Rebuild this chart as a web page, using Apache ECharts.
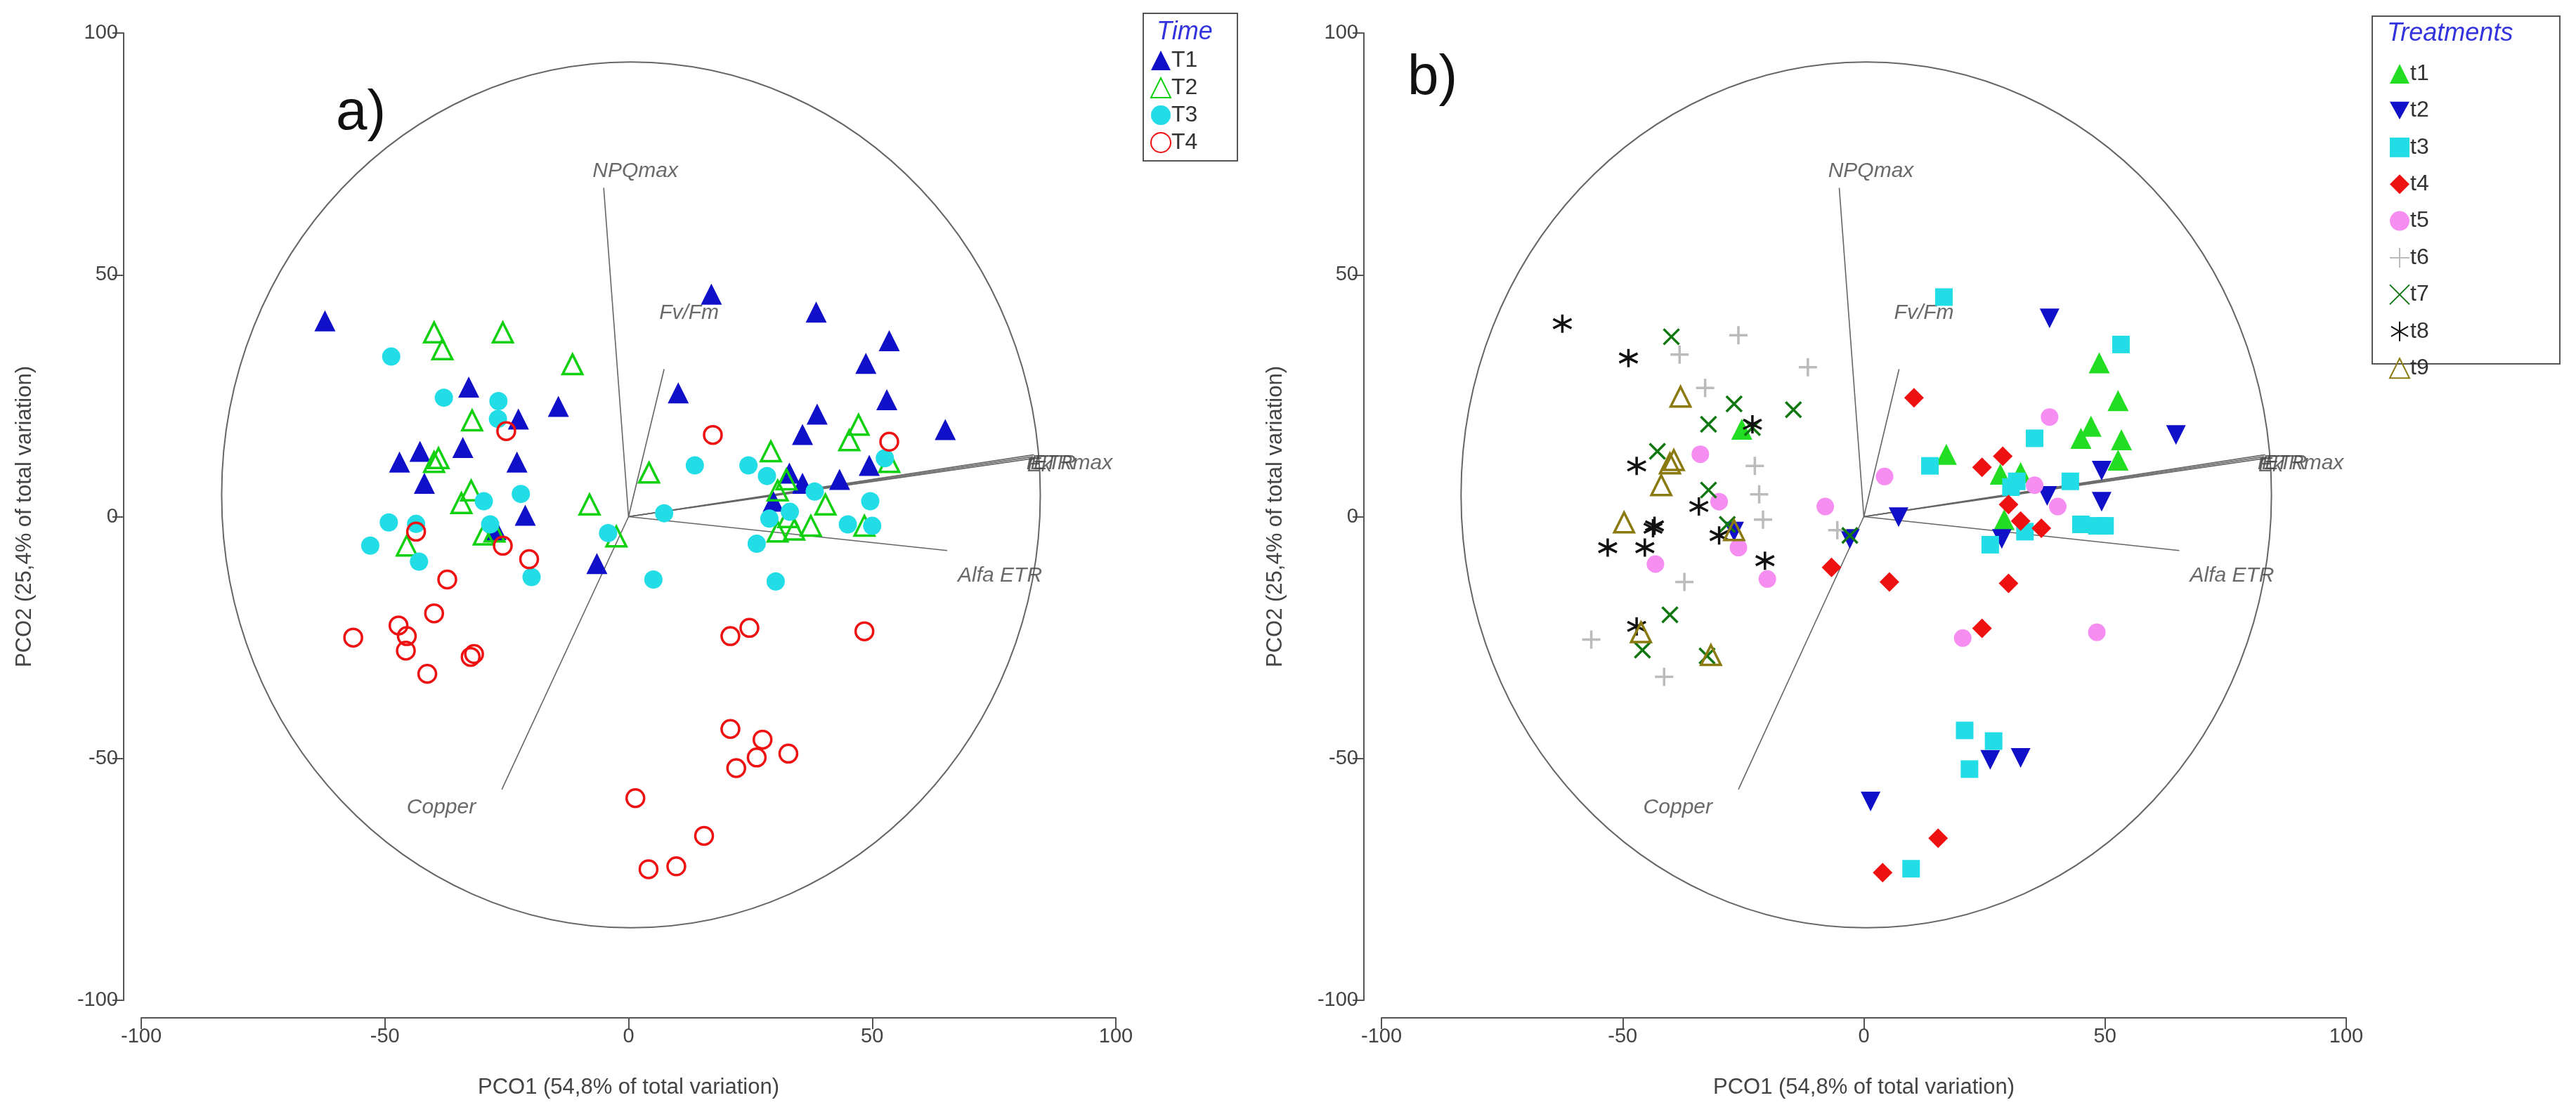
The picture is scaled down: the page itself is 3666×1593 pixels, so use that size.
<!DOCTYPE html>
<html><head><meta charset="utf-8">
<script src="https://cdn.jsdelivr.net/npm/echarts@6/dist/echarts.min.js"></script>
<style>html,body{margin:0;padding:0;background:#fff}#c{width:3666px;height:1593px}</style>
</head><body><div id="c"></div>
<script>
// ---- data: panel a (Time) ----
const T1 = [[-62.3,40.5],[17,46],[38.5,42.3],[48.7,31.7],[53.5,36.4],[53,24.2],[65,18],[10.2,25.6],[38.7,21.2],[35.7,17],[43.3,7.7],[33,9],[35.7,6.9],[49.4,10.6],[29.7,3.2],[-32.8,26.8],[-14.4,22.8],[-22.6,20.2],[-34,14.3],[-47,11.3],[-42.8,13.5],[-41.9,6.9],[-22.9,11.3],[-21.2,0.3],[-27.2,-2.7],[-6.5,-9.7]];
const T2 = [[-39.9,38.1],[-38.2,34.6],[-25.8,38.1],[-11.5,31.5],[-32.1,19.9],[-39.9,11.3],[-39,12.1],[-32.3,5.4],[-34.3,2.8],[-29.7,-3.7],[-45.5,-6],[-8,2.5],[4.2,9.1],[-2.5,-4.1],[29.2,13.5],[30.6,5.4],[32.4,7.7],[47.2,19],[45.3,15.8],[53.5,11.3],[40.4,2.5],[37.4,-1.9],[34,-2.7],[30.6,-3.1],[32.8,-0.1],[48.4,-1.9],[-27.5,-3.1]];
const T3 = [[-48.7,33.1],[-37.9,24.6],[-26.7,23.9],[-26.8,20.2],[-29.7,3.2],[-22.1,4.7],[-49.2,-1.2],[-43.6,-1.5],[-53,-6],[-43,-9.3],[-28.4,-1.6],[-19.9,-12.5],[-4.2,-3.4],[7.3,0.7],[5.1,-13],[13.6,10.6],[24.6,10.6],[28.4,8.4],[38.2,5.2],[45,-1.6],[50,-1.9],[49.6,3.2],[52.6,12.1],[28.9,-0.4],[26.3,-5.6],[30.2,-13.4],[33.1,1]];
const T4 = [[-25.1,17.7],[17.3,16.9],[53.5,15.5],[-43.6,-3.1],[-25.8,-6],[-20.4,-8.8],[-37.2,-13],[-39.9,-20],[-47.2,-22.5],[-45.5,-24.7],[-56.5,-25],[-45.7,-27.7],[-41.3,-32.5],[-31.7,-28.4],[-32.4,-29],[20.9,-24.7],[24.8,-23],[48.4,-23.7],[20.9,-43.9],[27.5,-46.1],[32.8,-49],[26.3,-49.8],[22.1,-52],[1.4,-58.2],[15.5,-66],[9.8,-72.3],[4.1,-72.9]];
// ---- data: panel b (Treatments) ----
const t1 = [[-25.3,18.1],[17.1,12.9],[28.3,8.8],[32.5,9.1],[29.1,-0.6],[48.8,31.8],[47.1,18.7],[45,16.2],[52.7,24],[53.4,15.9],[52.7,11.7]];
const t2 = [[38.5,41],[64.7,16.9],[49.3,9.5],[49.3,3.1],[38,4.3],[7.2,-0.1],[-2.9,-4.6],[-26.9,-3.1],[28.6,-4.6],[26.2,-50.3],[32.5,-49.9],[1.4,-58.9]];
const t3 = [[16.6,45.4],[53.3,35.6],[35.4,16.2],[13.7,10.5],[31.7,7.3],[30.5,6.1],[42.8,7.3],[45,-1.6],[48.3,-1.9],[50,-1.9],[33.4,-3.1],[26.2,-5.8],[20.9,-44.2],[26.9,-46.4],[21.9,-52.2],[9.8,-72.8]];
const t4 = [[10.4,24.6],[28.8,12.5],[24.5,10.2],[30,2.5],[32.5,-0.9],[36.8,-2.4],[-6.7,-10.5],[5.3,-13.5],[30,-13.8],[24.5,-23.1],[15.4,-66.5],[3.9,-73.6]];
const t5 = [[38.5,20.6],[4.3,8.3],[-8,2.1],[35.4,6.5],[40.2,2.1],[-33.9,12.9],[-30,3.1],[-26,-6.4],[-20,-12.9],[-43.2,-9.8],[20.5,-25.1],[48.3,-23.9]];
const t6 = [[-26,37.5],[-11.6,30.9],[-38.2,33.5],[-32.9,26.6],[-22.6,10.5],[-21.7,4.6],[-20.9,-0.6],[-5.5,-2.8],[-37.2,-13.5],[-56.5,-25.4],[-41.4,-33.1]];
const t7 = [[-39.9,37.2],[-26.9,23.3],[-32.2,19.1],[-14.6,22.1],[-42.8,13.5],[-32.2,5.5],[-28.3,-1.6],[-23.1,18.4],[-40.2,-20.3],[-45.9,-27.6],[-32.5,-28.8],[-2.9,-3.9]];
const t8 = [[-62.5,39.9],[-48.8,32.8],[-23.1,19.1],[-47.1,10.5],[-34.2,2.1],[-43.7,-2.4],[-43.4,-1.9],[-53.1,-6.4],[-45.4,-6.4],[-30,-3.9],[-20.5,-9.1],[-47.1,-22.7]];
const t9 = [[-38,24.8],[-40.2,11],[-39.4,11.7],[-42,6.5],[-49.7,-1.2],[-46.2,-23.9],[-31.7,-28.6],[-26.9,-2.8]];
// ---- vectors ----
const vectorNames = ["NPQmax","Fv/Fm","ETRmax","rETR","Ek","Alfa ETR","Copper"];
const vectorEnds = [[-5.1,68],[7.3,30.5],[83.2,12.8],[83,12.4],[82.8,12.0],[65.4,-7],[-26,-56.4]];
const circleCenter = [0.5,4.5], circleRadii = [84,89.5];

const chart = echarts.init(document.getElementById('c'));
const grids = [{left:201,width:1387,top:47,height:1377},{left:1966,width:1373,top:47,height:1377}];
const FONT = 'Liberation Sans, Arial, sans-serif';
function xAx(i){return {gridIndex:i,type:'value',min:-100,max:100,interval:50,offset:25,
  name:'PCO1 (54,8% of total variation)',nameLocation:'middle',nameGap:84,
  nameTextStyle:{fontSize:31,color:'#444',fontFamily:FONT},
  axisLine:{onZero:false,lineStyle:{color:'#555',width:2}},axisTick:{length:16,lineStyle:{color:'#555',width:2}},
  axisLabel:{fontSize:29,color:'#444',fontFamily:FONT,margin:12},splitLine:{show:false}};}
function yAx(i){return {gridIndex:i,type:'value',min:-100,max:100,interval:50,offset:25,
  name:'PCO2 (25,4% of total variation)',nameLocation:'middle',nameGap:i===0?125:110,
  nameTextStyle:{fontSize:31,color:'#444',fontFamily:FONT},
  axisLine:{onZero:false,lineStyle:{color:'#555',width:2}},axisTick:{length:16,lineStyle:{color:'#555',width:2}},
  axisLabel:{fontSize:29,color:'#444',fontFamily:FONT,margin:8},splitLine:{show:false}};}

const DOWN = 'path://M0 0L10 0L5 9Z';
const PLUS = 'path://M5 0L5 10M0 5L10 5';
const CROSS = 'path://M0 0L10 10M10 0L0 10';
const STAR = 'path://M5 0L5 10M0.7 2.5L9.3 7.5M9.3 2.5L0.7 7.5';

function sc(name,data,gi,symbol,size,fill,stroke,bw){
  return {name,type:'scatter',xAxisIndex:gi,yAxisIndex:gi,data,symbol,symbolSize:size,z:5,
    itemStyle:{color:fill,borderColor:stroke,borderWidth:bw,opacity:1}};
}
const series = [];
const pos = {"NPQmax":['top',[45,-4]],"Fv/Fm":['right',[-12,-80]],"ETRmax":['right',[-10,12]],
  "rETR":['right',[-14,10]],"Ek":['right',[-12,10]],"Alfa ETR":['right',[10,36]],"Copper":['left',[-32,26]]};
for (let g=0; g<2; g++){
  vectorEnds.forEach((e)=>{
    series.push({type:'line',xAxisIndex:g,yAxisIndex:g,data:[[0,0],e],symbol:'none',silent:true,z:2,
      lineStyle:{color:'#666',width:1.6}});
  });
  series.push({type:'scatter',xAxisIndex:g,yAxisIndex:g,symbolSize:0,silent:true,z:3,
    data:vectorEnds.map((e,k)=>({value:e,name:vectorNames[k],
      label:{show:true,formatter:vectorNames[k],position:pos[vectorNames[k]][0],offset:pos[vectorNames[k]][1],
        fontSize:30,fontStyle:'italic',color:'#444',fontFamily:FONT}}))});
}
// panel a
series.push(sc('T1',T1,0,'triangle',30,'#1010c8','#1010c8',0));
series.push(sc('T2',T2,0,'triangle',28,'rgba(0,0,0,0)','#10d010',3.5));
series.push(sc('T3',T3,0,'circle',26,'#22dde6','#22dde6',0));
series.push(sc('T4',T4,0,'circle',25,'rgba(0,0,0,0)','#ee1111',3.5));
// panel b
series.push(sc('t1',t1,1,'triangle',30,'#22dd22','#22dd22',0));
series.push(sc('t2',t2,1,DOWN,28,'#1010c8','#1010c8',0));
series.push(sc('t3',t3,1,'rect',25,'#22dde6','#22dde6',0));
series.push(sc('t4',t4,1,'diamond',28,'#ee1111','#ee1111',0));
series.push(sc('t5',t5,1,'circle',25,'#f58ef0','#f58ef0',0));
series.push(sc('t6',t6,1,PLUS,26,'rgba(0,0,0,0)','#bbbbbb',3.5));
series.push(sc('t7',t7,1,CROSS,22,'rgba(0,0,0,0)','#117711',3.5));
series.push(sc('t8',t8,1,STAR,26,'rgba(0,0,0,0)','#111111',3.5));
series.push(sc('t9',t9,1,'triangle',28,'rgba(0,0,0,0)','#8a7a10',3.5));

const legendCommon = {orient:'vertical',itemWidth:28,itemHeight:28,padding:0,
  textStyle:{fontSize:32,color:'#333',fontFamily:FONT,padding:[0,0,0,-4]},selectedMode:false};
chart.setOption({
  animation:false,
  backgroundColor:'#fff',
  grid:grids,
  xAxis:[xAx(0),xAx(1)],
  yAxis:[yAx(0),yAx(1)],
  legend:[
    Object.assign({data:['T1','T2','T3','T4'],left:1637,top:70,itemGap:7},legendCommon),
    Object.assign({data:['t1','t2','t3','t4','t5','t6','t7','t8','t9'],left:3400,top:89,itemGap:20.4},legendCommon)
  ],
  series
});

function drawExtras(){
  const els = [];
  for (let g=0; g<2; g++){
    const c = chart.convertToPixel({gridIndex:g},circleCenter);
    const p1 = chart.convertToPixel({gridIndex:g},[circleCenter[0]+circleRadii[0],circleCenter[1]+circleRadii[1]]);
    els.push({type:'ellipse',z:1,shape:{cx:c[0],cy:c[1],rx:Math.abs(p1[0]-c[0]),ry:Math.abs(p1[1]-c[1])},
      style:{fill:'none',stroke:'#666',lineWidth:2}});
  }
  els.push({type:'text',left:478,top:122,style:{text:'a)',fill:'#111',font:'80px '+FONT}});
  els.push({type:'text',left:2003,top:72,style:{text:'b)',fill:'#111',font:'80px '+FONT}});
  els.push({type:'rect',z:0,shape:{x:1627,y:19,width:134,height:210},style:{fill:'#fff',stroke:'#555',lineWidth:2}});
  els.push({type:'text',left:1646,top:28,style:{text:'Time',font:'italic 36px '+FONT,fill:'#3333dd'}});
  els.push({type:'rect',z:0,shape:{x:3376,y:23,width:267,height:495},style:{fill:'#fff',stroke:'#555',lineWidth:2}});
  els.push({type:'text',left:3397,top:30,style:{text:'Treatments',font:'italic 36px '+FONT,fill:'#3333dd'}});
  chart.setOption({graphic:{elements:els}});
}
drawExtras();
</script></body></html>
